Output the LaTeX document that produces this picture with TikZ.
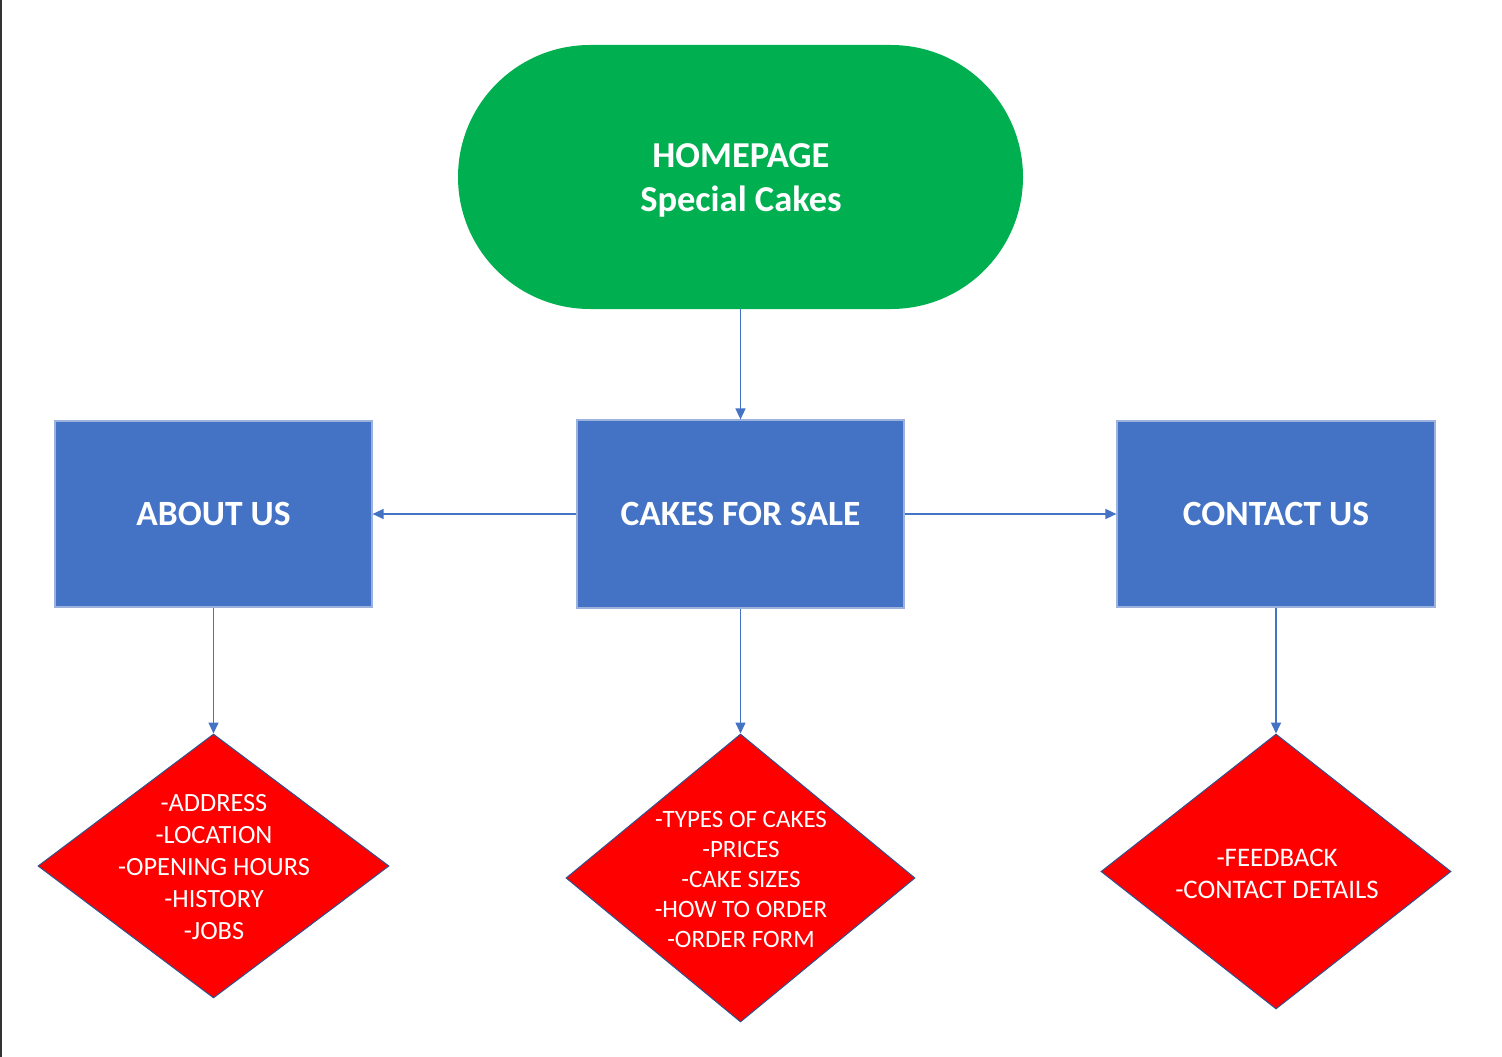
\documentclass[tikz,border=0pt]{standalone}
\usepackage{fontspec}
\setmainfont{Carlito}
\usetikzlibrary{shapes.geometric,arrows.meta}
\definecolor{hgreen}{HTML}{00B050}
\definecolor{bblue}{HTML}{4472C4}
\definecolor{bedge}{HTML}{9DB1DD}
\definecolor{dedge}{HTML}{2F528F}
\definecolor{dred}{HTML}{FF0000}
\tikzset{
  pagebox/.style={draw=bedge, line width=1.2pt, fill=bblue, inner sep=0pt,
    text=white, font=\fontsize{35.5}{44}\selectfont\bfseries},
  dia/.style={diamond, draw=dedge, line width=1pt, fill=dred, inner sep=0pt},
  diatext/.style={text=white, align=center, inner sep=0pt},
  conn/.style={draw=bblue, line width=1.5pt, -{Triangle[length=11pt,width=10pt]}}
}
\begin{document}
\begin{tikzpicture}[x=1pt,y=-1pt]
\useasboundingbox (0,0) rectangle (1502,1057);
\fill[white] (0,0) rectangle (1502,1057);
\draw[line width=1.6pt, black!80] (0.8,0) -- (0.8,1057);

\node[fill=hgreen, rounded corners=132pt, minimum width=565pt, minimum height=264pt,
  inner sep=0pt] (home) at (740.5,177) {};
\node[text=white, align=center, inner sep=0pt, font=\fontsize{36.5}{44}\selectfont\bfseries]
  (hometext) at (741,180) {HOMEPAGE\\Special Cakes};

\node[pagebox, minimum width=317pt, minimum height=186pt] (about) at (213.5,514) {ABOUT US};
\node[pagebox, minimum width=327pt, minimum height=188pt] (cakes) at (740.5,514) {CAKES FOR SALE};
\node[pagebox, minimum width=318pt, minimum height=186pt] (contact) at (1276,514) {CONTACT US};

\node[dia, minimum width=351pt, minimum height=264pt] (d1) at (213.5,866) {};
\node[dia, minimum width=349pt, minimum height=288pt] (d2) at (740.5,878) {};
\node[dia, minimum width=350pt, minimum height=275pt] (d3) at (1276,871.5) {};

\node[diatext, font=\fontsize{26.3}{32}\selectfont] (t1) at (214,867.5)
  {-ADDRESS\\-LOCATION\\-OPENING HOURS\\-HISTORY\\-JOBS};
\node[diatext, font=\fontsize{25}{30.2}\selectfont] (t2) at (741,879.5)
  {-TYPES OF CAKES\\-PRICES\\-CAKE SIZES\\-HOW TO ORDER\\-ORDER FORM};
\node[diatext, font=\fontsize{26.8}{32}\selectfont] (t3) at (1277,873.5)
  {-FEEDBACK\\-CONTACT DETAILS};

\draw[conn] (home.south) -- (cakes.north);
\draw[conn] (cakes.west) -- (about.east);
\draw[conn] (cakes.east) -- (contact.west);
\draw[conn] (about.south) -- (d1.north);
\draw[conn] (cakes.south) -- (d2.north);
\draw[conn] (contact.south) -- (d3.north);
\end{tikzpicture}
\end{document}
